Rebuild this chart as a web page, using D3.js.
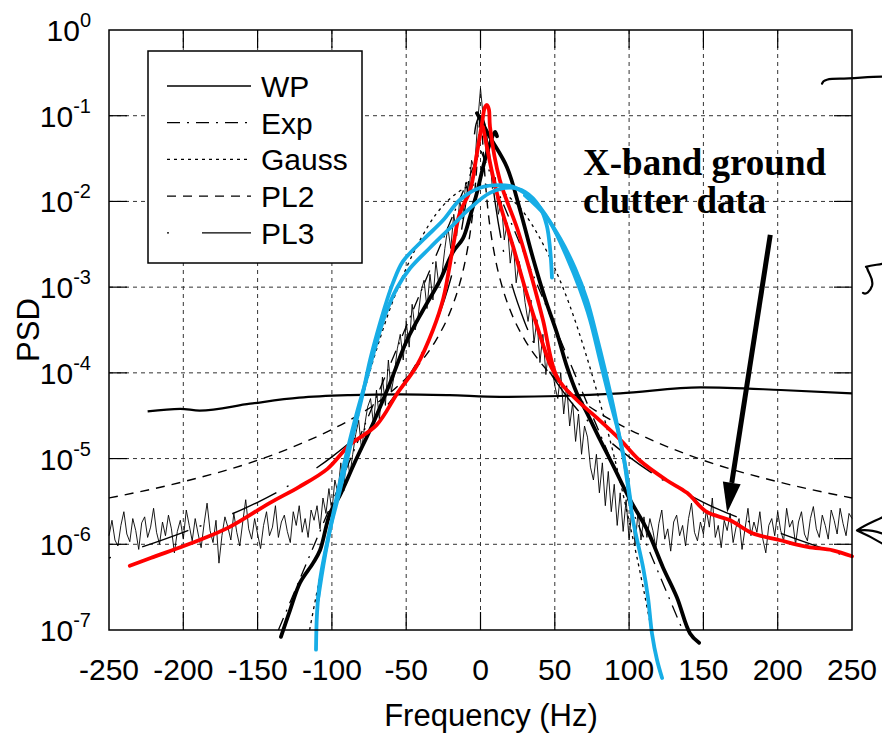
<!DOCTYPE html>
<html>
<head>
<meta charset="utf-8">
<script src="https://cdn.jsdelivr.net/npm/d3@7"></script>
<style>
  body { margin: 0; background: #fff; }
  svg { display: block; }
</style>
</head>
<body>
<div id="chart"></div>
<script>
// ---- data (frequency in Hz, PSD written as log10 exponent) ----
const xTicks = [-250, -200, -150, -100, -50, 0, 50, 100, 150, 200, 250];
const yExps = [0, -1, -2, -3, -4, -5, -6, -7];

// measured X-band ground clutter spectrum, 2 Hz bins
const clutterFreq = d3.range(-250, 251, 2);
const clutterExp = [
  -5.90,-5.72,-5.95,-6.02,-5.78,-5.62,-5.88,-5.97,-5.70,-5.84,
  -6.06,-5.75,-5.68,-5.92,-5.80,-5.58,-5.86,-6.00,-5.74,-5.90,
  -5.66,-5.82,-6.10,-5.85,-5.72,-5.94,-5.60,-5.78,-5.96,-5.70,
  -5.88,-6.04,-5.76,-5.52,-5.84,-5.98,-5.72,-6.22,-5.90,-5.68,
  -5.80,-5.95,-5.64,-5.86,-6.02,-5.74,-5.48,-5.82,-5.94,-5.70,
  -5.88,-6.05,-5.78,-5.62,-5.90,-5.80,-5.55,-5.92,-5.74,-5.66,
  -5.85,-5.98,-5.62,-5.78,-5.55,-5.86,-5.70,-5.92,-5.60,-5.72,
  // -110 .. -2
  -5.55,-5.82,-5.46,-5.64,-5.35,-5.62,-5.25,-5.40,-5.05,-5.38,
  -4.88,-5.20,-4.95,-4.72,-4.55,-4.90,-4.62,-4.40,-4.30,-4.60,
  -4.20,-4.55,-4.05,-4.38,-3.85,-4.22,-4.02,-3.72,-3.55,-3.85,
  -3.40,-3.70,-3.20,-3.50,-3.34,-3.05,-2.92,-3.25,-2.85,-3.15,
  -2.70,-2.98,-2.86,-2.55,-2.30,-2.55,-2.15,-2.40,-1.98,-2.20,
  -1.78,-1.95,-1.52,-1.62,-1.10,
  // 0
  -0.68,
  // 2 .. 110
  -1.05,-1.48,-1.40,-1.85,-1.72,-2.15,-2.00,-2.45,-2.25,-2.72,
  -2.48,-2.95,-2.70,-2.88,-3.18,-3.40,-3.15,-3.65,-3.38,-3.88,
  -3.55,-4.02,-3.70,-3.92,-4.15,-4.30,-4.00,-4.48,-4.15,-4.62,
  -4.35,-4.80,-4.48,-4.95,-4.62,-4.75,-5.10,-5.25,-4.95,-5.40,
  -5.05,-5.55,-5.15,-5.62,-5.30,-5.78,-5.40,-5.85,-5.48,-5.95,
  -5.55,-6.02,-5.62,-5.95,-5.68,
  // 112 .. 250
  -5.92,-5.70,-5.84,-6.04,-5.76,-5.60,-5.94,-5.82,-6.08,-5.74,
  -5.66,-5.90,-5.78,-6.02,-5.70,-5.52,-5.86,-5.96,-5.74,-5.88,
  -5.60,-5.80,-5.46,-5.92,-5.78,-6.04,-5.72,-5.84,-5.64,-5.98,
  -5.80,-5.70,-6.06,-5.82,-5.58,-5.90,-5.74,-5.86,-5.62,-5.94,
  -6.10,-5.78,-5.70,-5.90,-5.62,-5.84,-5.96,-5.58,-5.80,-5.72,
  -6.00,-5.74,-5.62,-5.88,-5.96,-5.70,-5.56,-5.82,-5.92,-5.66,
  -5.78,-5.94,-5.60,-5.72,-5.88,-5.58,-5.76,-5.90,-5.64,-5.70
];

// fitted models
const wpFreq = [-224, -202, -189, -155, -122, -88, -54, -21, 13, 54, 94, 148, 202, 250];
const wpExp = [-4.45, -4.42, -4.44, -4.36, -4.29, -4.26, -4.25, -4.26, -4.28, -4.27, -4.24, -4.17, -4.20, -4.24];

const expFreq = [-136, 0, 136];
const expExp = [-7.0, -1.4, -7.0];

const gaussFreq = [-115, -110, -100, -90, -80, -70, -60, -50, -40, -30, -20, -10, 0, 10, 20, 30, 40, 50, 60, 70, 80, 90, 100, 110, 115];
const gaussExp = [-7.0, -6.55, -5.73, -4.98, -4.32, -3.73, -3.21, -2.78, -2.43, -2.15, -1.96, -1.84, -1.80,
  -1.84, -1.96, -2.15, -2.43, -2.78, -3.21, -3.73, -4.32, -4.98, -5.73, -6.55, -7.0];

const pl2Freq = [-250, -200, -150, -120, -100, -80, -60, -40, -30, -20, -15, -10, -7, -5, -3, -2, -1, 0,
  1, 2, 3, 5, 7, 10, 15, 20, 30, 40, 60, 80, 100, 120, 150, 200, 250];
const pl2Exp = [-5.46, -5.27, -5.02, -4.82, -4.66, -4.47, -4.22, -3.87, -3.62, -3.27, -3.02, -2.67, -2.37, -2.10, -1.71, -1.46, -1.17, -1.0,
  -1.17, -1.46, -1.71, -2.10, -2.37, -2.67, -3.02, -3.27, -3.62, -3.87, -4.22, -4.47, -4.66, -4.82, -5.02, -5.27, -5.46];

const pl3Freq = [-250, -200, -150, -120, -100, -80, -60, -40, -30, -20, -15, -10, -7, -5, -3, 0,
  3, 5, 7, 10, 15, 20, 30, 40, 60, 80, 100, 120, 150, 200, 250];
const pl3Exp = [-6.16, -5.86, -5.51, -5.22, -4.98, -4.69, -4.32, -3.79, -3.42, -2.90, -2.54, -2.03, -1.63, -1.35, -1.10, -1.0,
  -1.10, -1.35, -1.63, -2.03, -2.54, -2.90, -3.42, -3.79, -4.32, -4.69, -4.98, -5.22, -5.51, -5.86, -6.16];

// coloured / thick traced spectra: [freq, log10 PSD]
const redMain = [[-236,-6.25],[-222,-6.16],[-189,-5.95],[-169,-5.80],[-142,-5.52],[-122,-5.33],[-103,-5.12],
  [-88,-4.84],[-70,-4.61],[-56,-4.24],[-43,-3.92],[-32,-3.50],[-25,-3.13],[-18.5,-2.53],[-14,-2.14],[-7,-1.87],
  [-2.4,-1.44],[1,-1.09],[3,-0.90],[4.4,-0.875],[5.7,-0.93],[6.4,-1.13],[13,-1.75],[25,-2.33],[35,-2.92],
  [42,-3.38],[51.5,-4.05],[65,-4.32],[78,-4.52],[94,-4.78],[107,-5.02],[125,-5.25],[139,-5.40],[152,-5.62],
  [168,-5.72],[183,-5.87],[201,-5.95],[220,-6.03],[237,-6.07],[250,-6.14]];
const redInner = [[1.7,-1.13],[11,-1.90],[22,-2.53],[31,-3.07],[40,-3.56],[47,-3.91],[51.5,-4.05]];

const cyanA = [[-110.7,-7.23],[-110,-6.80],[-108,-6.42],[-101.3,-5.83],[-94.6,-5.37],[-87.8,-4.87],[-79.7,-4.28],
  [-74.3,-3.85],[-69.6,-3.54],[-62.9,-3.15],[-58.9,-2.95],[-52.2,-2.70],[-38.7,-2.45],[-25.2,-2.22],[-13.8,-1.98],
  [-0.3,-1.84],[13.1,-1.81],[21.9,-1.83],[35.3,-1.98],[46.8,-2.24],[58.2,-2.65],[67,-3.03],[73.7,-3.38],
  [80.4,-3.85],[87.1,-4.32],[91.9,-4.63],[95.9,-4.94],[98.6,-5.25],[102.6,-5.72],[109.4,-6.27],[112.7,-6.62],
  [115.4,-7.04],[118.8,-7.35],[122.2,-7.56]];
const cyanB = [[-109.4,-6.65],[-104.6,-6.13],[-97.9,-5.54],[-91.2,-5.02],[-83.1,-4.46],[-76.4,-4.05],[-71,-3.71],
  [-64.3,-3.33],[-56.2,-3.01],[-47.4,-2.78],[-34,-2.54],[-20.5,-2.31],[-7.1,-2.08],[6.4,-1.90],[19.9,-1.84],
  [29.9,-1.89],[40,-2.07],[44.6,-2.28],[46.8,-2.55],[48.1,-2.89]];
const cyanC = [[29.9,-1.93],[43.4,-2.16],[53.5,-2.43],[63.6,-2.78],[71.7,-3.15],[77.7,-3.54],[83.8,-3.97],
  [89.2,-4.38],[93.9,-4.78],[97.9,-5.13],[101.3,-5.54]];

const blackLeft = [[-134.3,-7.08],[-128.2,-6.77],[-121.5,-6.45],[-112.7,-6.22],[-108,-6.07],[-101.3,-5.64],
  [-94.6,-5.43],[-84.5,-5.04],[-72.3,-4.59],[-60.9,-4.12],[-49.5,-3.62],[-38.7,-3.27],[-27.3,-2.92],[-18.5,-2.59],
  [-11.8,-2.43],[-7.1,-2.18],[-2.4,-1.90],[1.7,-1.60],[6.4,-1.32],[9.8,-1.19],[11.1,-1.24]];
const blackRight = [[-2.4,-0.97],[6.4,-1.25],[17.8,-1.60],[26.6,-2.10],[35.3,-2.66],[43.4,-3.13],[51.5,-3.54],
  [58.2,-3.93],[64.9,-4.24],[71.7,-4.47],[80.4,-4.78],[89.2,-5.08],[100.6,-5.48],[112.1,-5.83],[122.8,-6.27],
  [132.2,-6.62],[141,-7.04],[147.1,-7.15]];

const legendNames = ["WP", "Exp", "Gauss", "PL2", "PL3"];
const noteLines = ["X-band ground", "clutter data"];
const noteAt = [69, -1.69];          // freq, log10 PSD of first baseline
const arrowFrom = [195, -2.39];
const arrowTo = [166, -5.63];

// ---- layout ----
const width = 882, height = 741;
const margin = { top: 30, right: 30, bottom: 111, left: 109 };
const font = "'Liberation Sans', Arial, sans-serif";

const x = d3.scaleLinear().domain([-250, 250]).range([margin.left, width - margin.right]);
const y = d3.scaleLog().domain([1e-7, 1]).range([height - margin.bottom, margin.top]);
const yE = (e) => y(Math.pow(10, e));

const svg = d3.select("#chart").append("svg")
  .attr("width", width)
  .attr("height", height)
  .attr("font-family", font);

const x0 = x.range()[0], x1 = x.range()[1];
const y0 = y.range()[0], y1 = y.range()[1];

// grid
const grid = svg.append("g")
  .attr("stroke", "#333")
  .attr("stroke-width", 1)
  .attr("stroke-dasharray", "4,4");
grid.selectAll("line.v")
  .data(xTicks.slice(1, -1))
  .join("line")
  .attr("x1", (d) => x(d)).attr("x2", (d) => x(d))
  .attr("y1", y1).attr("y2", y0);
grid.selectAll("line.h")
  .data(yExps.slice(1, -1))
  .join("line")
  .attr("y1", (d) => yE(d)).attr("y2", (d) => yE(d))
  .attr("x1", x0).attr("x2", x1);

// inner ticks on all four sides
const tickLen = 18;
const ticks = svg.append("g").attr("stroke", "#000").attr("stroke-width", 1.2);
xTicks.slice(1, -1).forEach((t) => {
  ticks.append("line").attr("x1", x(t)).attr("x2", x(t)).attr("y1", y1).attr("y2", y1 + tickLen);
  ticks.append("line").attr("x1", x(t)).attr("x2", x(t)).attr("y1", y0).attr("y2", y0 - tickLen);
});
yExps.slice(1, -1).forEach((e) => {
  ticks.append("line").attr("y1", yE(e)).attr("y2", yE(e)).attr("x1", x0).attr("x2", x0 + tickLen);
  ticks.append("line").attr("y1", yE(e)).attr("y2", yE(e)).attr("x1", x1).attr("x2", x1 - tickLen);
});

// line generators
const lineExp = d3.line().x((d) => x(d[0])).y((d) => yE(d[1]));
const zipExp = (f, e) => f.map((v, i) => [v, e[i]]);

const curves = svg.append("g").attr("fill", "none");

// measured clutter data
curves.append("path")
  .attr("d", lineExp(zipExp(clutterFreq, clutterExp)))
  .attr("stroke", "#000")
  .attr("stroke-width", 0.9)
  .attr("stroke-linejoin", "miter");

// model styles
const modelStyle = {
  WP: { dash: null, w: 2.2 },
  Exp: { dash: "13,7,2,7", w: 1.3 },
  Gauss: { dash: "3,4", w: 1.3 },
  PL2: { dash: "9,7", w: 1.4 },
  PL3: { dash: "2,33,49,12", w: 1.4 },
};
const smooth = d3.line().x((d) => x(d[0])).y((d) => yE(d[1])).curve(d3.curveMonotoneX);

const models = [
  ["Exp", lineExp(zipExp(expFreq, expExp))],
  ["Gauss", smooth(zipExp(gaussFreq, gaussExp))],
  ["PL2", smooth(zipExp(pl2Freq, pl2Exp))],
  ["PL3", smooth(zipExp(pl3Freq, pl3Exp))],
  ["WP", smooth(zipExp(wpFreq, wpExp))],
];
models.forEach(([name, d]) => {
  curves.append("path")
    .attr("d", d)
    .attr("stroke", "#000")
    .attr("stroke-width", modelStyle[name].w)
    .attr("stroke-dasharray", modelStyle[name].dash);
});

// thick traced spectra
const trace = d3.line().x((d) => x(d[0])).y((d) => yE(d[1])).curve(d3.curveCatmullRom.alpha(0.5));
const thick = [
  [blackLeft, "#000"], [blackRight, "#000"],
  [redMain, "#ff0000"], [redInner, "#ff0000"],
  [cyanA, "#17ade6"], [cyanB, "#17ade6"], [cyanC, "#17ade6"],
];
thick.forEach(([pts, color]) => {
  curves.append("path")
    .attr("d", trace(pts))
    .attr("stroke", color)
    .attr("stroke-width", 3.8)
    .attr("stroke-linecap", "round")
    .attr("stroke-linejoin", "round");
});

// frame
svg.append("rect")
  .attr("x", x0).attr("y", y1)
  .attr("width", x1 - x0).attr("height", y0 - y1)
  .attr("fill", "none").attr("stroke", "#000").attr("stroke-width", 1.5);

// tick labels
svg.append("g")
  .selectAll("text")
  .data(xTicks)
  .join("text")
  .attr("x", (d) => x(d))
  .attr("y", y0 + 50)
  .attr("text-anchor", "middle")
  .attr("font-size", 30)
  .text((d) => d);

const yLab = svg.append("g")
  .selectAll("text")
  .data(yExps)
  .join("text")
  .attr("x", x0 - 18)
  .attr("y", (d) => yE(d) + 11)
  .attr("text-anchor", "end")
  .attr("font-size", 30);
yLab.append("tspan").text("10");
yLab.append("tspan")
  .attr("dy", -14)
  .attr("font-size", 20)
  .text((d) => d);

// axis titles
svg.append("text")
  .attr("x", 491)
  .attr("y", 726)
  .attr("text-anchor", "middle")
  .attr("font-size", 31)
  .text("Frequency (Hz)");
svg.append("text")
  .attr("transform", `translate(39,${(y0 + y1) / 2}) rotate(-90)`)
  .attr("text-anchor", "middle")
  .attr("font-size", 31)
  .text("PSD");

// legend
const legend = svg.append("g").attr("transform", "translate(148,51)");
legend.append("rect")
  .attr("width", 214).attr("height", 212)
  .attr("fill", "#fff").attr("stroke", "#000").attr("stroke-width", 1.5);
legendNames.forEach((name, i) => {
  const cy = 35 + i * 36.7;
  legend.append("line")
    .attr("x1", 19).attr("x2", 103)
    .attr("y1", cy).attr("y2", cy)
    .attr("stroke", "#000")
    .attr("stroke-width", name === "WP" ? 1.5 : 1.3)
    .attr("stroke-dasharray", modelStyle[name].dash);
  legend.append("text")
    .attr("x", 113).attr("y", cy + 11)
    .attr("font-size", 30)
    .text(name);
});

// annotation
const note = svg.append("g")
  .attr("font-family", "'Liberation Serif', 'Times New Roman', serif")
  .attr("font-weight", "bold")
  .attr("font-size", 37);
noteLines.forEach((t, i) => {
  note.append("text")
    .attr("x", x(noteAt[0]))
    .attr("y", yE(noteAt[1]) + i * 38)
    .text(t);
});

// arrow
const ax0 = x(arrowFrom[0]), ay0 = yE(arrowFrom[1]);
const ax1 = x(arrowTo[0]), ay1 = yE(arrowTo[1]);
const ang = Math.atan2(ay1 - ay0, ax1 - ax0);
const headLen = 30, headHalf = 9;
const bx = ax1 - headLen * Math.cos(ang), by = ay1 - headLen * Math.sin(ang);
svg.append("line")
  .attr("x1", ax0).attr("y1", ay0).attr("x2", bx).attr("y2", by)
  .attr("stroke", "#000").attr("stroke-width", 5);
svg.append("path")
  .attr("d", d3.line()([
    [ax1, ay1],
    [bx + headHalf * Math.sin(ang), by - headHalf * Math.cos(ang)],
    [bx - headHalf * Math.sin(ang), by + headHalf * Math.cos(ang)],
  ]) + "Z")
  .attr("fill", "#000");

// hand-written marks in the right margin
const marks = svg.append("g")
  .attr("fill", "none").attr("stroke", "#000").attr("stroke-width", 2.2)
  .attr("stroke-linecap", "round").attr("stroke-linejoin", "round");
marks.append("path")
  .attr("transform", `translate(${x1},${yE(-0.58)})`)
  .attr("d", "M-30,4 C-29,0 -24,-1 -12,-1 C2,-1 16,-3 30,-3");
marks.append("path")
  .attr("transform", `translate(${x1},${yE(-2.95)})`)
  .attr("d", "M14,-16 C20,-18 26,-18 30,-19 M15,-15 C17,-8 22,-4 20,3 C18,9 14,12 11,10");
marks.append("path")
  .attr("transform", `translate(${x1},${yE(-5.85)})`)
  .attr("d", "M30,-14 C22,-10 12,-6 5,-1 C12,2 22,7 30,12 M8,-1 C16,-2 24,0 30,2");
</script>
</body>
</html>
